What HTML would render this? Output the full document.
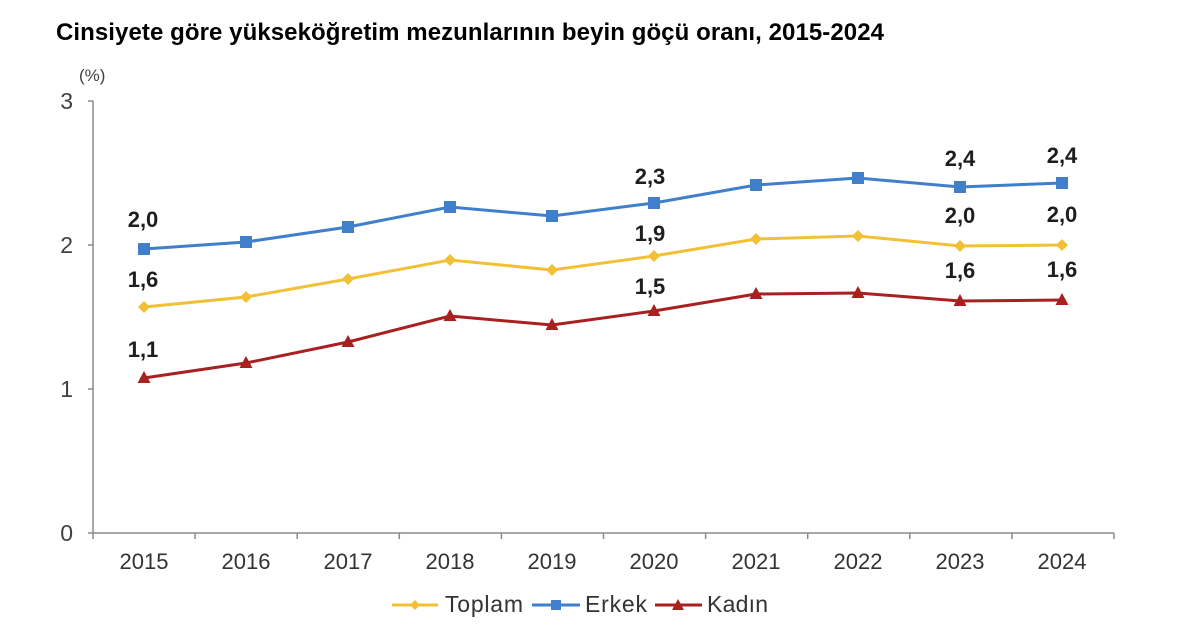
<!DOCTYPE html>
<html>
<head>
<meta charset="utf-8">
<style>
html,body{margin:0;padding:0;background:#fff;}
svg{display:block;}
text{font-family:"Liberation Sans",Arial,sans-serif;}
</style>
</head>
<body>
<svg width="1200" height="636" viewBox="0 0 1200 636" xmlns="http://www.w3.org/2000/svg">
<rect width="1200" height="636" fill="#fff"/>
<!-- Title -->
<text x="56" y="40" font-size="24" font-weight="bold" fill="#000" textLength="828" lengthAdjust="spacing">Cinsiyete göre yükseköğretim mezunlarının beyin göçü oranı, 2015-2024</text>
<!-- (%) -->
<text x="79" y="81" font-size="17" fill="#404040">(%)</text>

<!-- Axes -->
<g stroke="#8a8a8a" stroke-width="1.5" fill="none">
<line x1="93" y1="101" x2="93" y2="533"/>
<line x1="93" y1="533" x2="1114" y2="533"/>
<line x1="88" y1="101" x2="93" y2="101"/>
<line x1="88" y1="245" x2="93" y2="245"/>
<line x1="88" y1="389" x2="93" y2="389"/>
<line x1="88" y1="533" x2="93" y2="533"/>
<line x1="93" y1="533" x2="93" y2="539"/>
<line x1="195.1" y1="533" x2="195.1" y2="539"/>
<line x1="297.2" y1="533" x2="297.2" y2="539"/>
<line x1="399.3" y1="533" x2="399.3" y2="539"/>
<line x1="501.4" y1="533" x2="501.4" y2="539"/>
<line x1="603.5" y1="533" x2="603.5" y2="539"/>
<line x1="705.6" y1="533" x2="705.6" y2="539"/>
<line x1="807.7" y1="533" x2="807.7" y2="539"/>
<line x1="909.8" y1="533" x2="909.8" y2="539"/>
<line x1="1011.9" y1="533" x2="1011.9" y2="539"/>
<line x1="1114" y1="533" x2="1114" y2="539"/>
</g>

<!-- Y labels -->
<g font-size="23" fill="#404040" text-anchor="end">
<text x="73" y="109">3</text>
<text x="73" y="253">2</text>
<text x="73" y="397">1</text>
<text x="73" y="541">0</text>
</g>

<!-- X labels -->
<g font-size="22" fill="#333" text-anchor="middle">
<text x="144" y="569">2015</text>
<text x="246" y="569">2016</text>
<text x="348" y="569">2017</text>
<text x="450" y="569">2018</text>
<text x="552" y="569">2019</text>
<text x="654" y="569">2020</text>
<text x="756" y="569">2021</text>
<text x="858" y="569">2022</text>
<text x="960" y="569">2023</text>
<text x="1062" y="569">2024</text>
</g>

<!-- Erkek -->
<polyline fill="none" stroke="#3f7fcb" stroke-width="3" points="144,249 246,242 348,227 450,207 552,216 654,203 756,185 858,178 960,187 1062,183"/>
<g fill="#3f7fcb">
<rect x="138" y="243" width="12" height="12"/>
<rect x="240" y="236" width="12" height="12"/>
<rect x="342" y="221" width="12" height="12"/>
<rect x="444" y="201" width="12" height="12"/>
<rect x="546" y="210" width="12" height="12"/>
<rect x="648" y="197" width="12" height="12"/>
<rect x="750" y="179" width="12" height="12"/>
<rect x="852" y="172" width="12" height="12"/>
<rect x="954" y="181" width="12" height="12"/>
<rect x="1056" y="177" width="12" height="12"/>
</g>

<!-- Toplam -->
<polyline fill="none" stroke="#f2c037" stroke-width="3" points="144,307 246,297 348,279 450,260 552,270 654,256 756,239 858,236 960,246 1062,245"/>
<g fill="#f2c037">
<polygon points="144,301 150,307 144,313 138,307"/>
<polygon points="246,291 252,297 246,303 240,297"/>
<polygon points="348,273 354,279 348,285 342,279"/>
<polygon points="450,254 456,260 450,266 444,260"/>
<polygon points="552,264 558,270 552,276 546,270"/>
<polygon points="654,250 660,256 654,262 648,256"/>
<polygon points="756,233 762,239 756,245 750,239"/>
<polygon points="858,230 864,236 858,242 852,236"/>
<polygon points="960,240 966,246 960,252 954,246"/>
<polygon points="1062,239 1068,245 1062,251 1056,245"/>
</g>

<!-- Kadın -->
<polyline fill="none" stroke="#a8201f" stroke-width="3" points="144,378 246,363 348,342 450,316 552,325 654,311 756,294 858,293 960,301 1062,300"/>
<g fill="#a8201f">
<polygon points="144,371 150.5,383 137.5,383"/>
<polygon points="246,356 252.5,368 239.5,368"/>
<polygon points="348,335 354.5,347 341.5,347"/>
<polygon points="450,309 456.5,321 443.5,321"/>
<polygon points="552,318 558.5,330 545.5,330"/>
<polygon points="654,304 660.5,316 647.5,316"/>
<polygon points="756,287 762.5,299 749.5,299"/>
<polygon points="858,286 864.5,298 851.5,298"/>
<polygon points="960,294 966.5,306 953.5,306"/>
<polygon points="1062,293 1068.5,305 1055.5,305"/>
</g>

<!-- Data labels -->
<g font-size="22" font-weight="bold" fill="#1e1e1e" text-anchor="middle">
<text x="143" y="227">2,0</text>
<text x="143" y="287">1,6</text>
<text x="143" y="357">1,1</text>
<text x="650" y="184">2,3</text>
<text x="650" y="241">1,9</text>
<text x="650" y="294">1,5</text>
<text x="960" y="166">2,4</text>
<text x="960" y="223">2,0</text>
<text x="960" y="278">1,6</text>
<text x="1062" y="163">2,4</text>
<text x="1062" y="222">2,0</text>
<text x="1062" y="277">1,6</text>
</g>

<!-- Legend -->
<line x1="392" y1="605" x2="438" y2="605" stroke="#f2c037" stroke-width="3"/>
<polygon points="415,600 420,605 415,610 410,605" fill="#f2c037"/>
<text x="445" y="612" font-size="23" fill="#333" textLength="78" lengthAdjust="spacing">Toplam</text>

<line x1="532" y1="605" x2="580" y2="605" stroke="#3f7fcb" stroke-width="3"/>
<rect x="551" y="600" width="10" height="10" fill="#3f7fcb"/>
<text x="585" y="612" font-size="23" fill="#333" textLength="62" lengthAdjust="spacing">Erkek</text>

<line x1="655" y1="605" x2="702" y2="605" stroke="#a8201f" stroke-width="3"/>
<polygon points="678,599 684,610 672,610" fill="#a8201f"/>
<text x="707" y="612" font-size="23" fill="#333" textLength="61" lengthAdjust="spacing">Kadın</text>
</svg>
</body>
</html>
